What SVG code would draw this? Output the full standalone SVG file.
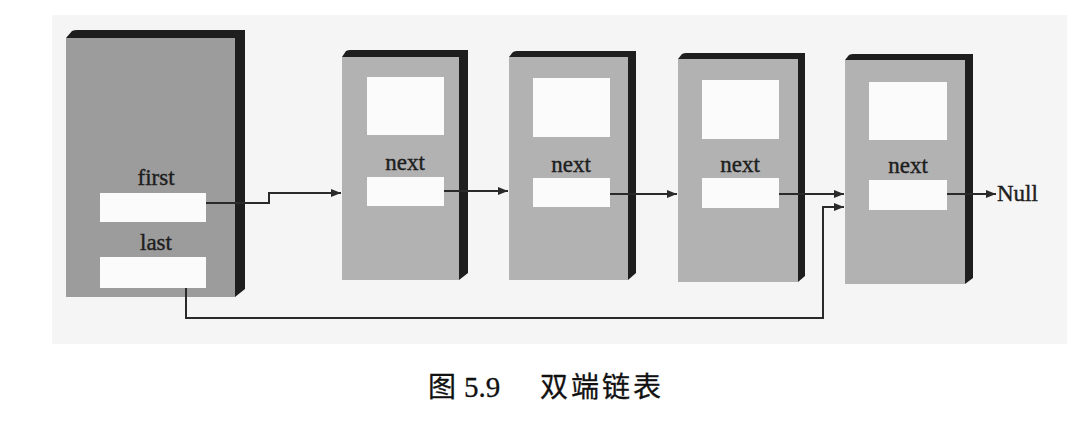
<svg xmlns="http://www.w3.org/2000/svg" width="1082" height="428" viewBox="0 0 1082 428">
<defs>
<style>
.side{fill:#1e1e1e}
.big{fill:#9c9c9c}
.face{fill:#b2b2b2}
.cell{fill:#fbfbfb}
.lbl{font-family:"Liberation Serif","Times New Roman",serif;font-size:23px;fill:#1e1e1e;stroke:#1e1e1e;stroke-width:0.4;text-anchor:middle}
.wire{fill:none;stroke:#2a2a2a;stroke-width:2}
.cap{font-size:28px;fill:#111;stroke:#111;stroke-width:0.3}
</style>
<marker id="ah" viewBox="0 0 10 10" refX="10" refY="5" markerWidth="10" markerHeight="10" markerUnits="userSpaceOnUse" orient="auto">
<path d="M0,1 L10,5 L0,9 Z" fill="#2a2a2a"/>
</marker>
</defs>
<rect width="1082" height="428" fill="#ffffff"/>
<rect x="52" y="15" width="1015" height="329" fill="#f5f5f5"/>

<g id="head">
<path class="side" d="M66,38 L72,31 Q74,30 77,30 L245,30 L245,289 L235,297 Z"/>
<rect class="big" x="66" y="38" width="169" height="259"/>
<text class="lbl" x="156" y="185">first</text>
<rect class="cell" x="100" y="193" width="106" height="29"/>
<text class="lbl" x="156" y="250">last</text>
<rect class="cell" x="100" y="257" width="106" height="31"/>
</g>

<g id="node1">
<path class="side" d="M342,57 L346,51 Q348,50 350,50 L468,50 L468,273 L459,280 Z"/>
<rect class="face" x="342" y="57" width="117" height="223"/>
<rect class="cell" x="367" y="77" width="77" height="58"/>
<text class="lbl" x="405" y="170">next</text>
<rect class="cell" x="367" y="177" width="77" height="29"/>
</g>

<g id="node2">
<path class="side" d="M509,57 L513,52 Q515,51 517,51 L636,51 L636,273 L628,280 Z"/>
<rect class="face" x="509" y="57" width="119" height="223"/>
<rect class="cell" x="533" y="78" width="77" height="59"/>
<text class="lbl" x="571" y="172">next</text>
<rect class="cell" x="533" y="178" width="77" height="29"/>
</g>

<g id="node3">
<path class="side" d="M678,59 L682,54 Q684,53 686,53 L805,53 L805,276 L798,282 Z"/>
<rect class="face" x="678" y="59" width="120" height="223"/>
<rect class="cell" x="702" y="80" width="77" height="59"/>
<text class="lbl" x="740" y="172">next</text>
<rect class="cell" x="702" y="178" width="77" height="30"/>
</g>

<g id="node4">
<path class="side" d="M845,60 L849,55 Q851,54 853,54 L973,54 L973,278 L965,284 Z"/>
<rect class="face" x="845" y="60" width="120" height="224"/>
<rect class="cell" x="869" y="82" width="78" height="58"/>
<text class="lbl" x="908" y="173">next</text>
<rect class="cell" x="869" y="180" width="78" height="30"/>
</g>

<g id="connectors">
<path class="wire" d="M206,203 H269 V193 H341" marker-end="url(#ah)"/>
<path class="wire" d="M444,191 H508" marker-end="url(#ah)"/>
<path class="wire" d="M610,194 H677" marker-end="url(#ah)"/>
<path class="wire" d="M779,194 H844" marker-end="url(#ah)"/>
<path class="wire" d="M186,288 V318 H823 V207 H844" marker-end="url(#ah)"/>
<path class="wire" d="M947,194 H996" marker-end="url(#ah)"/>
<text x="997" y="201" style="font-family:'Liberation Serif','Times New Roman',serif;font-size:23px;fill:#1e1e1e;stroke:#1e1e1e;stroke-width:0.4">Null</text>
</g>

<g id="caption">
<text class="cap" x="428" y="397" style="font-family:'Noto Sans CJK SC',sans-serif">图</text>
<text class="cap" x="464" y="397" style="font-family:'Liberation Serif','Times New Roman',serif;font-size:29px">5.9</text>
<text class="cap" x="540" y="397" style="font-family:'Noto Sans CJK SC',sans-serif;letter-spacing:3px">双端链表</text>
</g>
</svg>
